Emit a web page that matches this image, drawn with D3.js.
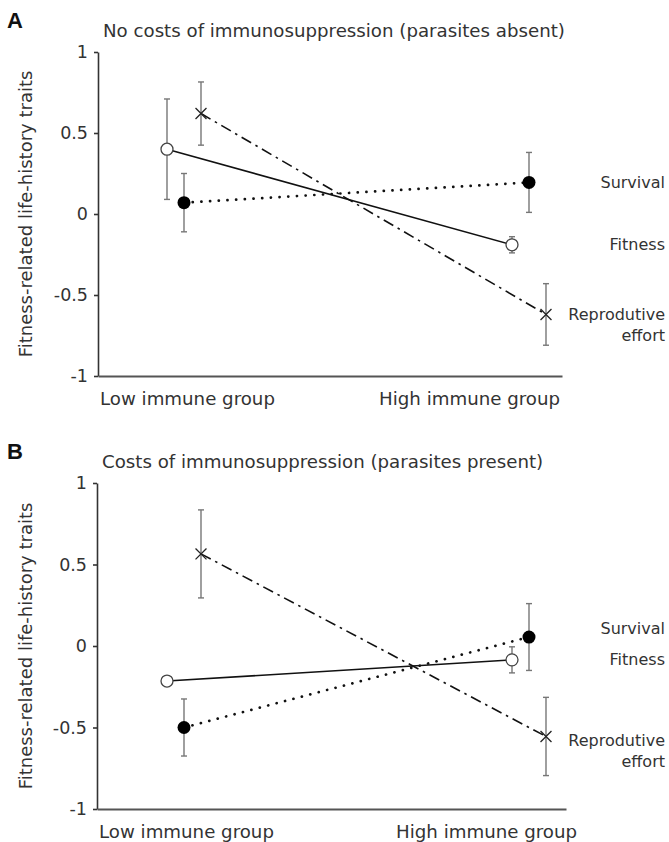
<!DOCTYPE html>
<html>
<head>
<meta charset="utf-8">
<script src="https://cdn.jsdelivr.net/npm/d3@7"></script>
<style>
    body { margin: 0; background: #fff; }
    text { font-family: "DejaVu Sans", Verdana, sans-serif; fill: #333; }
</style>
</head>
<body>
<script>

// groups on the x axis and the three traits
var groups = ["Low immune group", "High immune group"];
var traits = ["Fitness", "Survival", "Reprodutive effort"];
var yTicks = [-1, -0.5, 0, 0.5, 1];

// panel A : parasites absent (mean, error)
var fitnessA = [0.40, -0.19];
var fitnessErrA = [0.31, 0.05];
var survivalA = [0.07, 0.195];
var survivalErrA = [0.18, 0.185];
var reproA = [0.62, -0.62];
var reproErrA = [0.195, 0.19];

// panel B : parasites present
var fitnessB = [-0.215, -0.085];
var fitnessErrB = [0.02, 0.08];
var survivalB = [-0.50, 0.055];
var survivalErrB = [0.175, 0.205];
var reproB = [0.565, -0.555];
var reproErrB = [0.27, 0.24];

var panels = [
    {
        letter: "A",
        title: "No costs of immunosuppression (parasites absent)",
        values: [fitnessA, survivalA, reproA],
        errors: [fitnessErrA, survivalErrA, reproErrA],
        top: 52, bottom: 376, left: 98, right: 562, highX: 560,
        labShift: [0, 0, 0]
    },
    {
        letter: "B",
        title: "Costs of immunosuppression (parasites present)",
        values: [fitnessB, survivalB, reproB],
        errors: [fitnessErrB, survivalErrB, reproErrB],
        top: 483, bottom: 809, left: 97, right: 566, highX: 577,
        labShift: [0, -9, 4]
    }
];

var svg = d3.select("body")
    .append("svg")
    .attr("width", 669)
    .attr("height", 842);

var xGroup = d3.scalePoint()
    .domain(groups)
    .range([184, 529]);

var xOffset = d3.scalePoint()
    .domain(traits)
    .range([-17, 17]);

var dashes = {
    "Fitness": null,
    "Survival": "0.1,8.6",
    "Reprodutive effort": "11,5,2.5,5"
};

panels.forEach(function (p) {

    var yscale = d3.scaleLinear()
        .domain([-1, 1])
        .range([p.bottom, p.top]);

    var xAxisScale = d3.scaleLinear()
        .domain([0, 1])
        .range([p.left, p.right]);

    var g = svg.append("g");

    // panel letter + title
    g.append("text")
        .attr("x", 7)
        .attr("y", p.top - 24)
        .style("font-family", "'Liberation Sans', Arial, sans-serif")
        .style("font-weight", "bold")
        .style("font-size", "22px")
        .style("fill", "#111")
        .text(p.letter);

    g.append("text")
        .attr("x", p.left + 5)
        .attr("y", p.top - 15)
        .style("font-size", "18.2px")
        .text(p.title);

    // axes
    var yAxis = d3.axisLeft(yscale)
        .tickValues(yTicks)
        .tickSize(4)
        .tickSizeOuter(0)
        .tickPadding(6)
        .tickFormat(function (d) { return String(d); });

    var ya = g.append("g")
        .attr("transform", "translate(" + p.left + ",0)")
        .call(yAxis);
    ya.selectAll("text").style("font-size", "17.5px").attr("fill", null);
    ya.selectAll("path, line").attr("stroke", "#333").attr("stroke-width", 1.6);

    var xa = g.append("g")
        .attr("transform", "translate(0," + p.bottom + ")")
        .call(d3.axisBottom(xAxisScale).tickValues([]).tickSizeOuter(0));
    xa.select("path").attr("stroke", "#555").attr("stroke-width", 2);

    g.append("text")
        .attr("x", p.left + 2)
        .attr("y", p.bottom + 29)
        .style("font-size", "18.2px")
        .text(groups[0]);

    g.append("text")
        .attr("x", p.highX)
        .attr("y", p.bottom + 29)
        .style("text-anchor", "end")
        .style("font-size", "18.2px")
        .text(groups[1]);

    g.append("text")
        .attr("transform", "translate(32," + ((p.top + p.bottom) / 2) + ") rotate(-90)")
        .style("text-anchor", "middle")
        .style("font-size", "18px")
        .text("Fitness-related life-history traits");

    // build point table
    var pts = [];
    traits.forEach(function (t, i) {
        groups.forEach(function (gr, j) {
            pts.push({
                trait: t,
                x: xGroup(gr) + xOffset(t),
                v: p.values[i][j],
                e: p.errors[i][j]
            });
        });
    });

    var line = d3.line()
        .x(function (d) { return d.x; })
        .y(function (d) { return yscale(d.v); });

    traits.forEach(function (t) {
        g.append("path")
            .datum(pts.filter(function (d) { return d.trait === t; }))
            .attr("d", line)
            .attr("fill", "none")
            .attr("stroke", "#111")
            .attr("stroke-width", t === "Survival" ? 2.7 : 1.6)
            .attr("stroke-linecap", t === "Survival" ? "round" : "butt")
            .attr("stroke-dasharray", dashes[t]);
    });

    // error bars
    var eb = g.selectAll(".eb")
        .data(pts)
        .enter()
        .append("g")
        .attr("stroke", "#777")
        .attr("stroke-width", 1.4);

    eb.append("line")
        .attr("x1", function (d) { return d.x; })
        .attr("x2", function (d) { return d.x; })
        .attr("y1", function (d) { return yscale(d.v + d.e); })
        .attr("y2", function (d) { return yscale(d.v - d.e); });

    eb.append("line")
        .attr("x1", function (d) { return d.x - 3; })
        .attr("x2", function (d) { return d.x + 3; })
        .attr("y1", function (d) { return yscale(d.v + d.e); })
        .attr("y2", function (d) { return yscale(d.v + d.e); });

    eb.append("line")
        .attr("x1", function (d) { return d.x - 3; })
        .attr("x2", function (d) { return d.x + 3; })
        .attr("y1", function (d) { return yscale(d.v - d.e); })
        .attr("y2", function (d) { return yscale(d.v - d.e); });

    // markers
    g.selectAll(".fit")
        .data(pts.filter(function (d) { return d.trait === "Fitness"; }))
        .enter()
        .append("circle")
        .attr("cx", function (d) { return d.x; })
        .attr("cy", function (d) { return yscale(d.v); })
        .attr("r", 6)
        .attr("fill", "white")
        .attr("stroke", "#444")
        .attr("stroke-width", 1.3);

    g.selectAll(".surv")
        .data(pts.filter(function (d) { return d.trait === "Survival"; }))
        .enter()
        .append("circle")
        .attr("cx", function (d) { return d.x; })
        .attr("cy", function (d) { return yscale(d.v); })
        .attr("r", 6.5)
        .attr("fill", "#000");

    g.selectAll(".rep")
        .data(pts.filter(function (d) { return d.trait === "Reprodutive effort"; }))
        .enter()
        .append("path")
        .attr("d", d3.symbol().type(d3.symbolX).size(80))
        .attr("transform", function (d) {
            return "translate(" + d.x + "," + yscale(d.v) + ")";
        })
        .attr("fill", "none")
        .attr("stroke", "#222")
        .attr("stroke-width", 1.3);

    // trait labels on the right, beside the high group values
    var labX = 665;
    g.append("text")
        .attr("x", labX)
        .attr("y", yscale(p.values[1][1]) + p.labShift[1])
        .attr("dy", "0.35em")
        .style("text-anchor", "end")
        .style("font-size", "16px")
        .text("Survival");

    g.append("text")
        .attr("x", labX)
        .attr("y", yscale(p.values[0][1]) + p.labShift[0])
        .attr("dy", "0.35em")
        .style("text-anchor", "end")
        .style("font-size", "16px")
        .text("Fitness");

    var rl = g.append("text")
        .attr("x", labX)
        .attr("y", yscale(p.values[2][1]) + p.labShift[2])
        .style("text-anchor", "end")
        .style("font-size", "16px");
    rl.append("tspan").attr("x", labX).attr("dy", "0.35em").text("Reprodutive");
    rl.append("tspan").attr("x", labX).attr("dy", "1.3em").text("effort");
});

</script>
</body>
</html>
